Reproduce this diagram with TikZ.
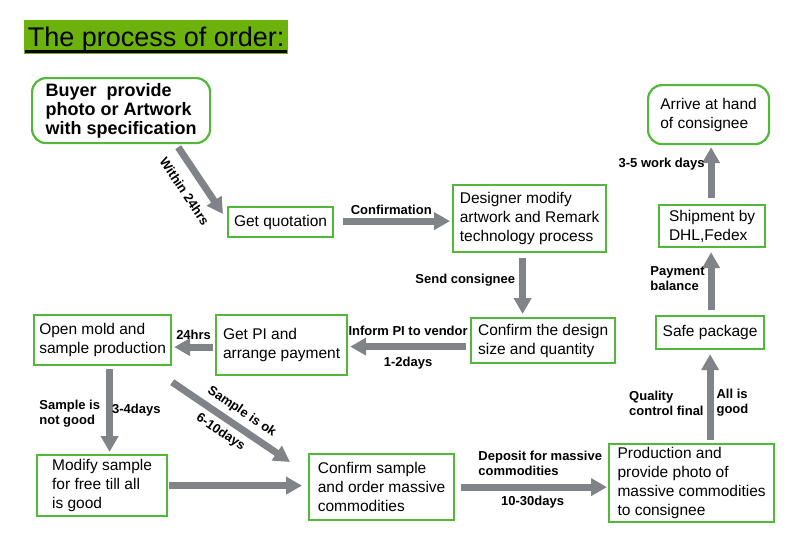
\documentclass[tikz,border=0pt]{standalone}
\usepackage{fontspec}
\setmainfont{Liberation Sans}
\usepackage{xcolor}
\usepackage{tikz}
\usetikzlibrary{arrows.meta}
\definecolor{boxgreen}{RGB}{82,184,58}
\definecolor{titlegreen}{RGB}{108,178,12}
\definecolor{arrowgray}{RGB}{128,131,135}
\tikzstyle{box} = [draw=boxgreen, line width=2.2pt, inner sep=1pt, align=left, anchor=north west, font=\fontsize{15.5}{19}\selectfont]
\tikzstyle{rbox} = [box, rounded corners=14pt]
\tikzstyle{lbl} = [font=\bfseries\fontsize{13}{15}\selectfont, inner sep=3pt, align=left]
\tikzstyle{arrow} = [draw=arrowgray, line width=7pt, -{Triangle[length=16pt,width=17pt]}]

\begin{document}
\begin{tikzpicture}[x=1pt,y=-1pt]
    \useasboundingbox (0,0) rectangle (800,546);
    % title
    \node[fill=titlegreen, anchor=north west, minimum width=264pt, minimum height=34pt, inner sep=0pt, text depth=0pt, font=\fontsize{27}{30}\selectfont] (title) at (24,20) {The process of order:};
    \draw[line width=2.5pt] ([xshift=1,yshift=3]title.south west) -- ([xshift=-1,yshift=3]title.south east);
    % steps
    \node[rbox, minimum width=178pt, minimum height=65pt, font=\bfseries\fontsize{18}{19}\selectfont] (buyer) at (31,77) {Buyer\ \ provide\\photo or Artwork\\with specification};
    \node[box, minimum width=105pt, minimum height=30pt] (quote) at (227,206) {Get quotation};
    \node[box, minimum width=153pt, minimum height=67pt] (design) at (452,184) {Designer modify\\artwork and Remark\\technology process};
    \node[rbox, minimum width=121pt, minimum height=59pt] (arrive) at (647,84) {Arrive at hand\\of consignee};
    \node[box, minimum width=106pt, minimum height=42pt] (ship) at (658,204) {Shipment by\\DHL,Fedex};
    \node[box, minimum width=108pt, minimum height=33pt] (safe) at (655,315) {Safe package};
    \node[box, minimum width=144pt, minimum height=45pt] (confd) at (470,317) {Confirm the design\\size and quantity};
    \node[box, minimum width=131pt, minimum height=60pt] (getpi) at (215,314) {Get PI and\\arrange payment};
    \node[box, minimum width=137pt, minimum height=50pt] (mold) at (33,314) {Open mold and\\sample production};
    \node[box, minimum width=130pt, minimum height=61pt] (modify) at (36,454) {Modify sample\\for free till all\\is good};
    \node[box, minimum width=145pt, minimum height=66pt] (confs) at (308,453) {Confirm sample\\and order massive\\commodities};
    \node[box, minimum width=165pt, minimum height=78pt, inner sep=0pt] (prod) at (608,443) {Production and\\provide photo of\\massive commodities\\to consignee};
    % arrows
    \draw[arrow] ([shift={(-33,3)}]buyer.south east) -- ([shift={(-4,8)}]quote.north west)
        node[lbl, pos=0.5, sloped, below=8pt] {Within 24hrs};
    \draw[arrow] ([xshift=9,yshift=1]quote.east) -- ([xshift=-2,yshift=1]quote.east -| design.west)
        node[lbl, pos=0.45, above] {Confirmation};
    \draw[arrow] ([xshift=-7,yshift=-5]design.south) -- ([xshift=-7,yshift=3]design.south |- confd.north)
        node[lbl, pos=0.4, left=1pt] {Send consignee};
    \draw[arrow] ([xshift=-4,yshift=-6]confd.west) -- ([xshift=2,yshift=-6]confd.west -| getpi.east)
        node[lbl, pos=0.5, above=4pt] {Inform PI to vendor}
        node[lbl, pos=0.5, below=4pt] {1-2days};
    \draw[arrow] ([xshift=-2,yshift=-2]getpi.west) -- ([xshift=2,yshift=-2]getpi.west -| mold.east)
        node[lbl, pos=0.5, above=1pt] {24hrs};
    \draw[arrow] ([xshift=7,yshift=-3]mold.south) -- ([xshift=7,yshift=2]mold.south |- modify.north)
        node[lbl, pos=0.54, left=3pt] {Sample is\\not good}
        node[lbl, pos=0.5, right=-4pt] {3-4days};
    \draw[arrow] ([shift={(0,16)}]mold.south east) -- ([shift={(-18,9)}]confs.north west)
        node[lbl, pos=0.52, sloped, above=2pt] {Sample is ok}
        node[lbl, pos=0.48, sloped, below=2pt] {6-10days};
    \draw[arrow] ([xshift=1]modify.east) -- ([xshift=-6]modify.east -| confs.west);
    \draw[arrow] ([xshift=6]confs.east) -- ([xshift=-1]confs.east -| prod.west)
        node[lbl, pos=0.074, anchor=south west, yshift=5pt] {Deposit for massive\\commodities}
        node[lbl, pos=0.49, below=2pt] {10-30days};
    \draw[arrow] ([yshift=3]prod.north -| safe.south) -- ([yshift=-4]safe.south)
        node[lbl, pos=0.43, left] {Quality\\control final}
        node[lbl, pos=0.43, right] {All is\\good};
    \draw[arrow] ([xshift=1,yshift=5]safe.north) -- ([xshift=1,yshift=-4]safe.north |- ship.south)
        node[lbl, pos=0.54, left] {Payment\\balance};
    \draw[arrow] ([xshift=-1,yshift=6]ship.north) -- ([xshift=-1,yshift=-2]ship.north |- arrive.south)
        node[lbl, pos=0.66, left] {3-5 work days};
\end{tikzpicture}
\end{document}
